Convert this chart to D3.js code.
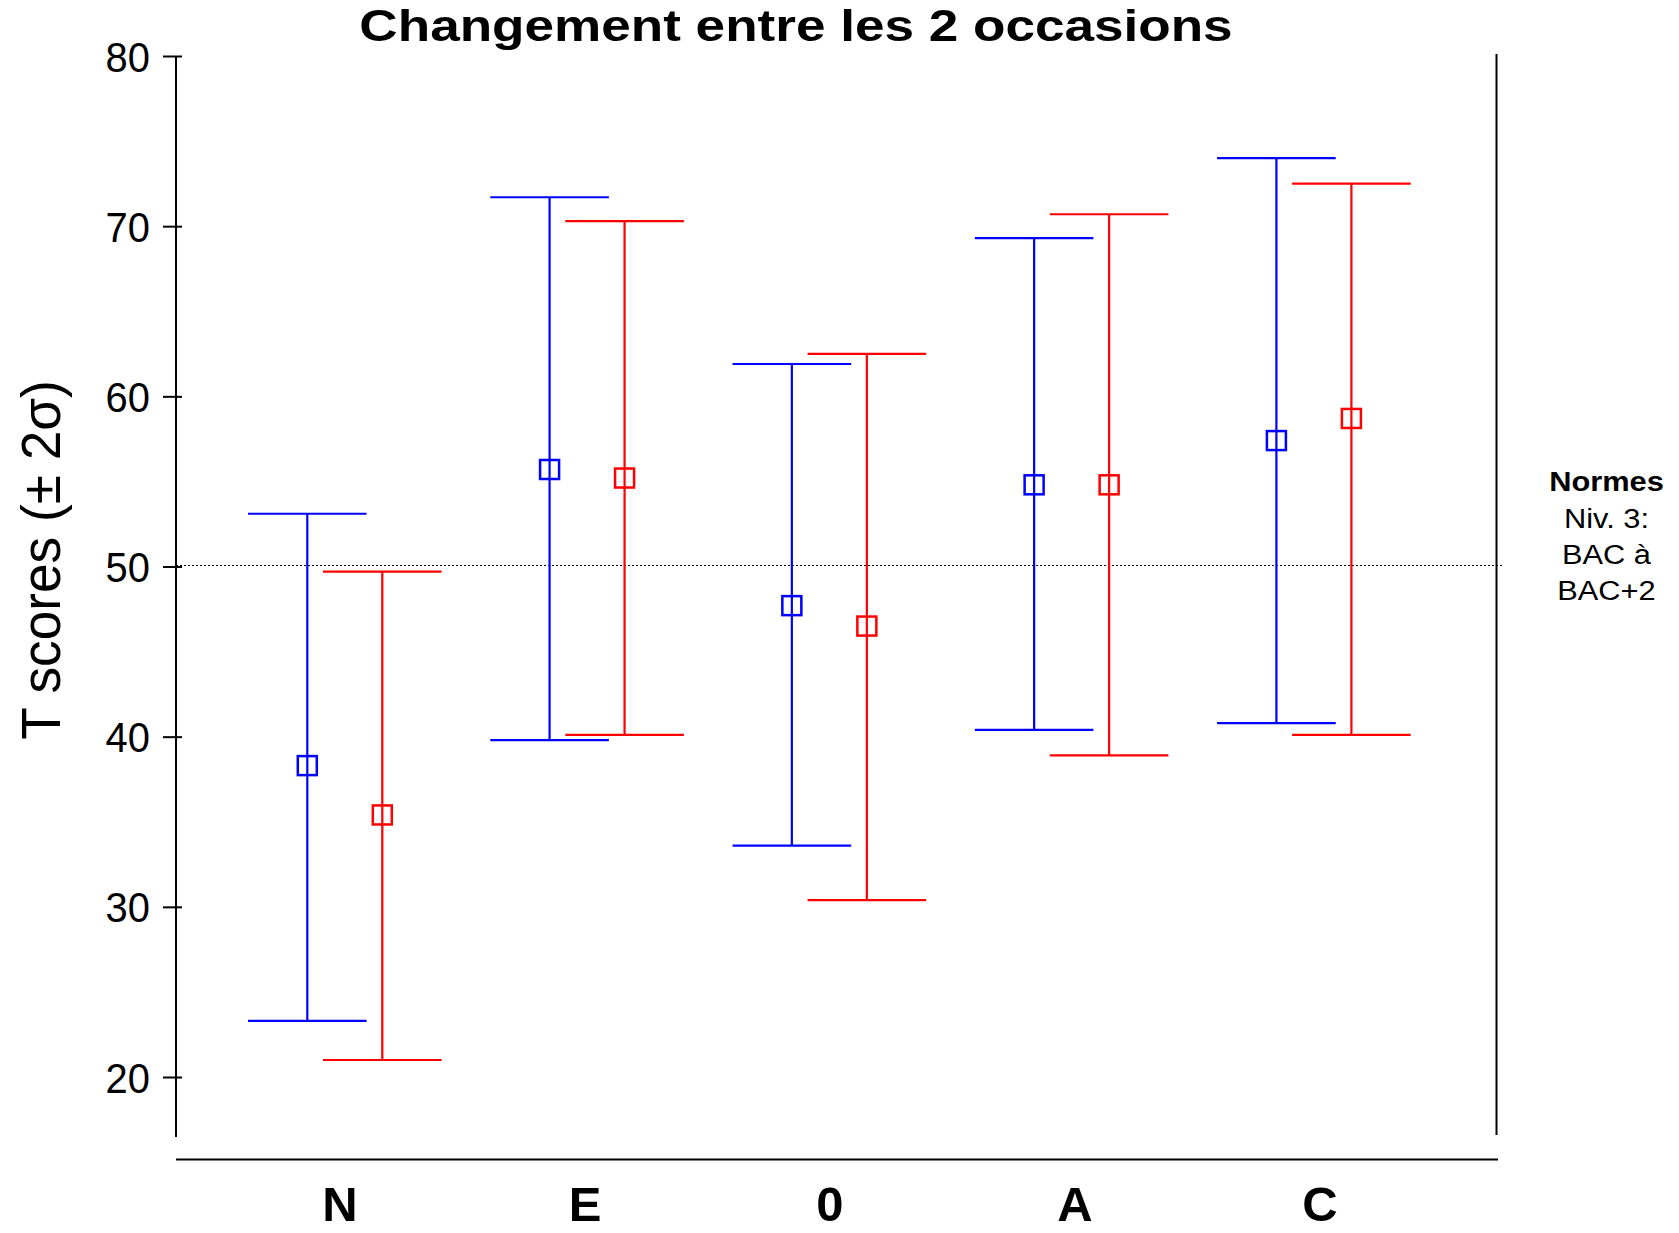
<!DOCTYPE html>
<html>
<head>
<meta charset="utf-8">
<script src="https://cdn.jsdelivr.net/npm/d3@7"></script>
<style>
  html, body { margin: 0; padding: 0; background: #fff; }
  svg { display: block; font-family: "Liberation Sans", Arial, Helvetica, sans-serif; }
</style>
</head>
<body>
<svg id="chart" width="1679" height="1233"></svg>
<script>
// ---- Data ----
const categories = ["N", "E", "0", "A", "C"];
const occasion1Mean  = [38.3, 55.7, 47.7, 54.8, 57.4];
const occasion1Upper = [53.1, 71.7, 61.9, 69.3, 74.0];
const occasion1Lower = [23.3, 39.8, 33.6, 40.4, 40.8];
const occasion2Mean  = [35.4, 55.2, 46.5, 54.8, 58.7];
const occasion2Upper = [49.7, 70.3, 62.5, 70.7, 72.5];
const occasion2Lower = [21.0, 40.1, 30.4, 38.9, 40.1];
const yTicks = [20, 30, 40, 50, 60, 70, 80];
const normLine = 50;
const titleText = "Changement entre les 2 occasions";
const yTitle = "T scores (\u00B1 2\u03C3)";
const noteLines = ["Normes", "Niv. 3:", "BAC \u00E0", "BAC+2"];

const series = [
  {name: "occasion 1", color: "#0000ff", mean: occasion1Mean, upper: occasion1Upper, lower: occasion1Lower, offset: -37.5},
  {name: "occasion 2", color: "#ff0000", mean: occasion2Mean, upper: occasion2Upper, lower: occasion2Lower, offset: 37.5}
];

// ---- Layout ----
const svg = d3.select("#chart");
const axisX = 176, rightX = 1496.5, xAxisY = 1159.5, axisBottom = 1137;

const y = d3.scaleLinear().domain([20, 80]).range([1077, 56]);
const x = d3.scalePoint().domain(categories).range([344.8, 1313.9]).padding(0);
const xLabel = d3.scalePoint().domain(categories).range([340, 1320]).padding(0);

// Title
svg.append("text")
  .attr("transform", "translate(796,41) scale(1.18,1)")
  .attr("text-anchor", "middle")
  .attr("font-weight", "bold")
  .attr("font-size", 45)
  .text(titleText);

// Y axis
const yAxis = d3.axisLeft(y).tickValues(yTicks).tickSize(13).tickSizeOuter(0).tickPadding(0);
const gy = svg.append("g").attr("transform", `translate(${axisX},0)`).call(yAxis);
gy.select(".domain").remove();
gy.selectAll(".tick line").attr("x1", 6).attr("x2", -13).attr("stroke", "#000").attr("stroke-width", 2);
gy.selectAll(".tick text")
  .attr("x", null).attr("dy", null)
  .attr("font-size", 42)
  .attr("fill", "#000")
  .attr("font-family", "'Liberation Sans', Arial, sans-serif")
  .attr("text-anchor", "end")
  .attr("transform", "translate(-26,15) scale(0.95,1)");
svg.append("line")
  .attr("x1", axisX).attr("x2", axisX)
  .attr("y1", y(80)).attr("y2", axisBottom)
  .attr("stroke", "#000").attr("stroke-width", 2);

// Y title
svg.append("text")
  .attr("transform", "translate(60,560) rotate(-90) scale(0.95,1)")
  .attr("text-anchor", "middle")
  .attr("font-size", 56)
  .text(yTitle);

// Right frame line
svg.append("line")
  .attr("x1", rightX).attr("x2", rightX)
  .attr("y1", 54).attr("y2", 1135)
  .attr("stroke", "#000").attr("stroke-width", 2);

// X axis line
svg.append("line")
  .attr("x1", axisX).attr("x2", 1498)
  .attr("y1", xAxisY).attr("y2", xAxisY)
  .attr("stroke", "#000").attr("stroke-width", 2);

// X labels
svg.append("g").selectAll("text")
  .data(categories)
  .join("text")
  .attr("x", d => xLabel(d))
  .attr("y", 1221)
  .attr("text-anchor", "middle")
  .attr("font-weight", "bold")
  .attr("font-size", 49)
  .text(d => d);

// Norm dotted line
svg.append("line")
  .attr("x1", axisX).attr("x2", 1503)
  .attr("y1", y(normLine) - 1).attr("y2", y(normLine) - 1)
  .attr("stroke", "#000").attr("stroke-width", 1)
  .attr("stroke-dasharray", "2,2");

// Error bars
const capHalf = 59.3, sq = 19;
series.forEach(s => {
  const g = svg.append("g").attr("stroke", s.color).attr("fill", "none").attr("stroke-width", 2.2);
  categories.forEach((c, i) => {
    const cx = x(c) + s.offset;
    g.append("line").attr("x1", cx).attr("x2", cx).attr("y1", y(s.upper[i])).attr("y2", y(s.lower[i]));
    g.append("line").attr("x1", cx - capHalf).attr("x2", cx + capHalf).attr("y1", y(s.upper[i])).attr("y2", y(s.upper[i]));
    g.append("line").attr("x1", cx - capHalf).attr("x2", cx + capHalf).attr("y1", y(s.lower[i])).attr("y2", y(s.lower[i]));
    g.append("rect").attr("x", cx - sq / 2).attr("y", y(s.mean[i]) - sq / 2)
      .attr("width", sq).attr("height", sq).attr("stroke-width", 2.5);
  });
});

// Note on right
const noteBaselines = [491, 528, 564, 600];
noteLines.forEach((t, i) => {
  svg.append("text")
    .attr("transform", `translate(1606.5,${noteBaselines[i]}) scale(1.1,1)`)
    .attr("text-anchor", "middle")
    .attr("font-size", 28)
    .attr("font-weight", i === 0 ? "bold" : "normal")
    .text(t);
});
</script>
</body>
</html>
